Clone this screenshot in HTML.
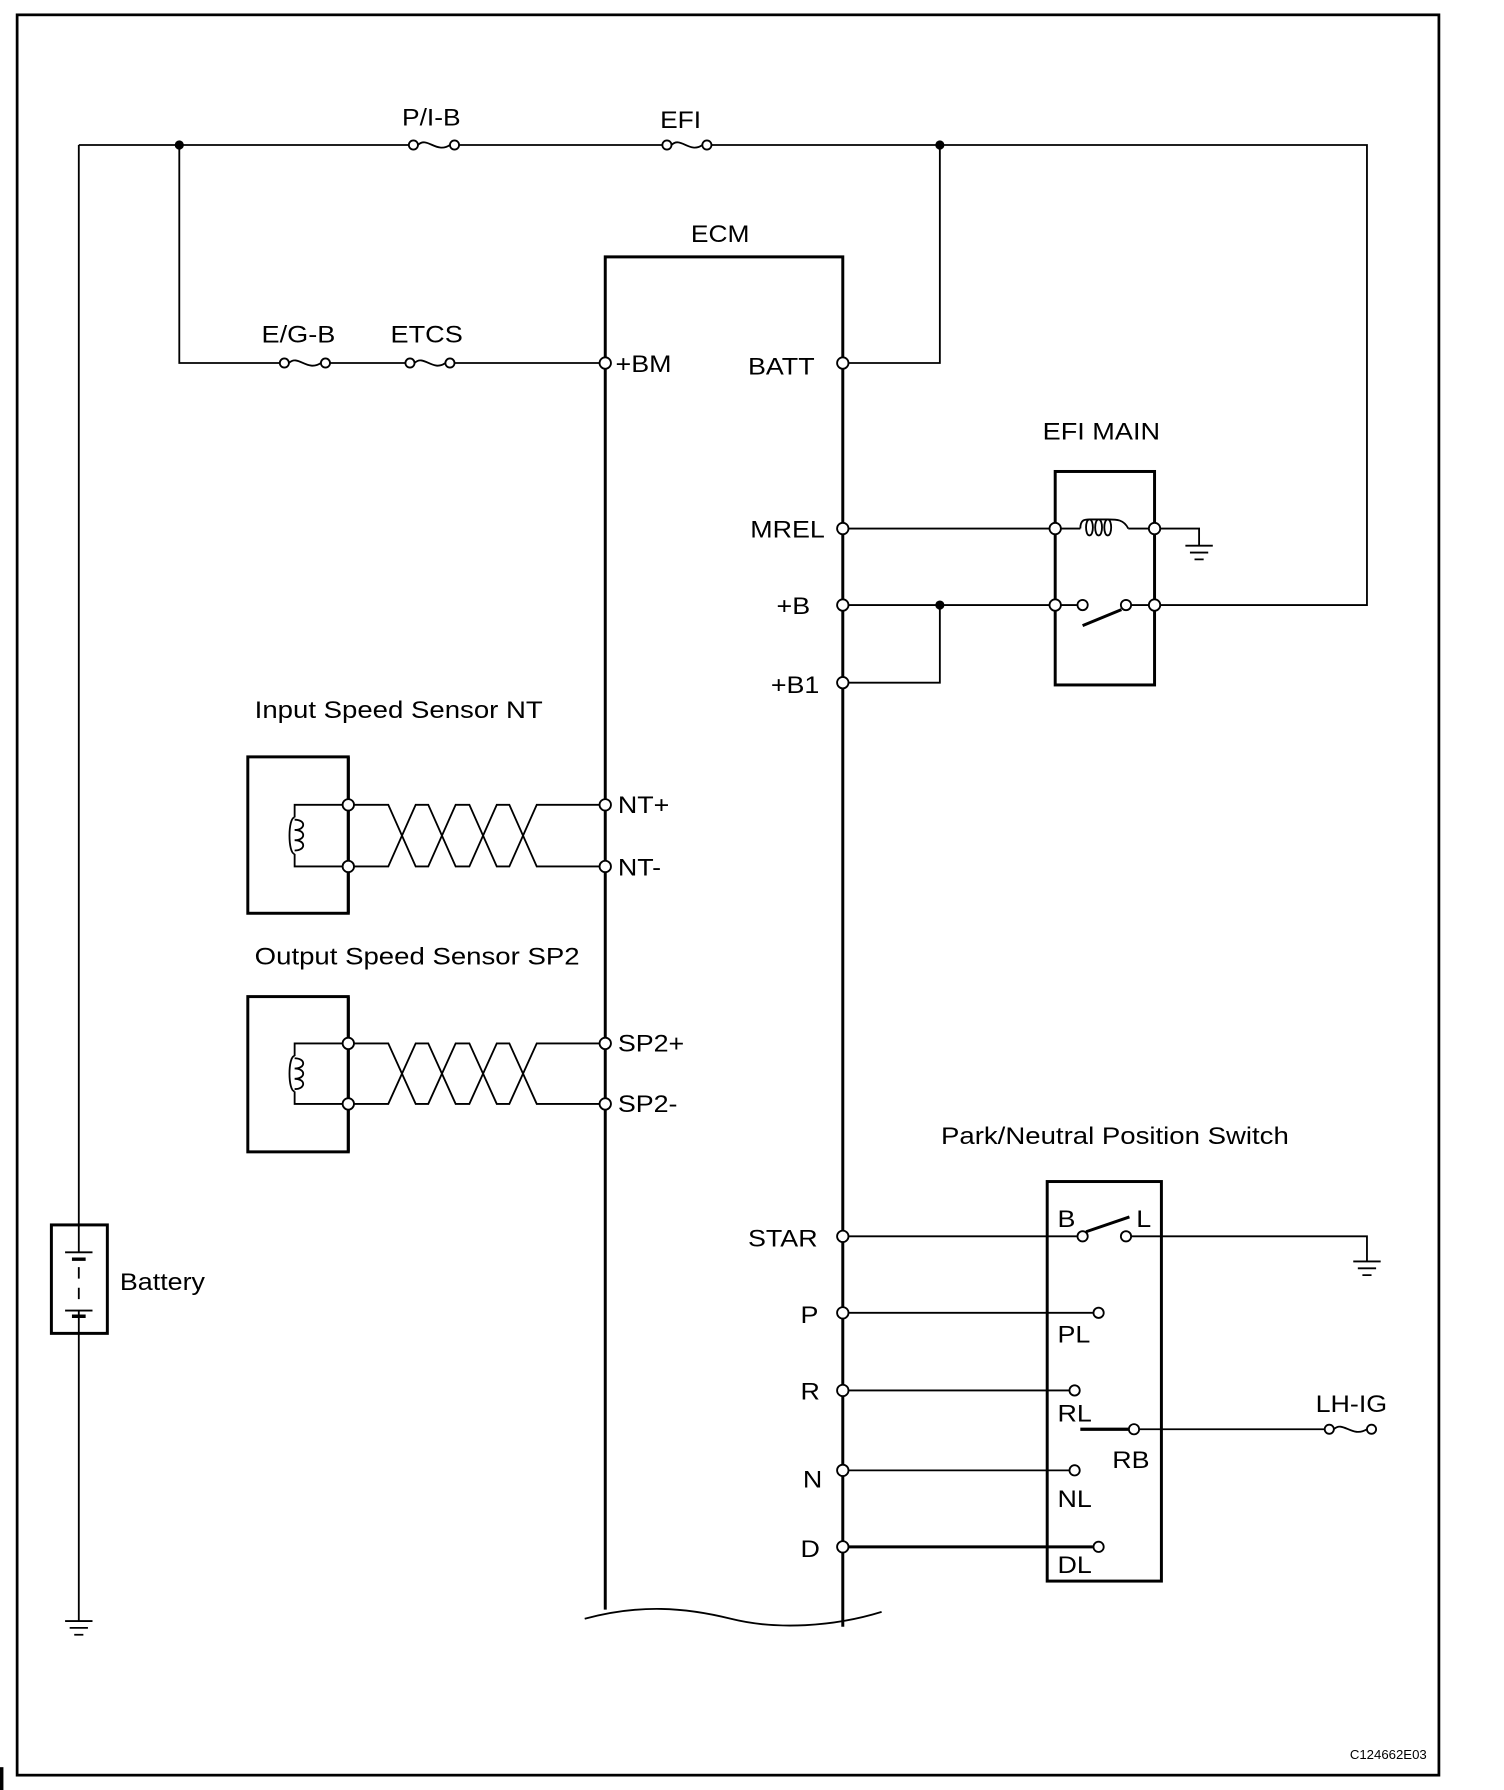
<!DOCTYPE html>
<html><head><style>html,body{margin:0;padding:0;background:#fff}svg{display:block}</style></head><body>
<svg width="1504" height="1790" viewBox="0 0 1317 1568" preserveAspectRatio="none" xmlns="http://www.w3.org/2000/svg" font-family="Liberation Sans, sans-serif" font-size="21">
<g fill="none" stroke="#000" stroke-width="1.6">
<rect x="15" y="13" width="1245" height="1542" stroke-width="2.4"/>
<path d="M69 127H358M402 127H580M623 127H1197V530H1011"/>
<path d="M69 127V1073M69 1168V1420"/>
<rect x="45" y="1073" width="49" height="95" stroke-width="2.6"/>
<path d="M69 1073V1097M57 1097H81M69 1110V1120M69 1128V1138M57 1148H81M69 1148V1168"/>
<path d="M63 1103H75M63 1153H75" stroke-width="3"/>
<path d="M57 1420H81M61 1426H77M65 1432H73"/>
<path d="M157 127V318H245M289 318H355M398 318H525"/>
<g>
<circle cx="362" cy="127" r="4"/><circle cx="398" cy="127" r="4"/><path d="M366 127C374 119 382 135 394 127"/>
<circle cx="584" cy="127" r="4"/><circle cx="619" cy="127" r="4"/><path d="M588 127C596 119 604 135 615 127"/>
<circle cx="249" cy="318" r="4"/><circle cx="285" cy="318" r="4"/><path d="M253 318C261 310 269 326 281 318"/>
<circle cx="359" cy="318" r="4"/><circle cx="394" cy="318" r="4"/><path d="M363 318C371 310 379 326 390 318"/>
<circle cx="1164" cy="1252" r="4"/><circle cx="1201" cy="1252" r="4"/><path d="M1168 1252C1176 1244 1184 1260 1197 1252"/>
</g>
<path d="M530 1410V225H738V1425" stroke-width="2.6"/>
<path d="M512 1418C560 1405 600 1408 640 1418S730 1425 772 1412"/>
<path d="M743 318H823V127"/>
<path d="M743 463H919M929 463H946M988 463H1006M1016 463H1050V478"/>
<path d="M946 463C946 455 950 455 954 455M954 455c-4 0-4 14 0 14c4 0 4-14 0-14c4 0 4 0 8 0M962 455c-4 0-4 14 0 14c4 0 4-14 0-14c4 0 4 0 8 0M970 455c-4 0-4 14 0 14c4 0 4-14 0-14c8 0 14 0 18 8"/>
<path d="M1038 478H1062M1042 484H1058M1046 490H1054"/>
<rect x="924" y="413" width="87" height="187" stroke-width="2.6"/>
<path d="M743 530H919M929 530H943M743 598H823V530"/>
<path d="M991 530H1006"/>
<circle cx="948" cy="530" r="4.5"/><circle cx="986" cy="530" r="4.5"/>
<path d="M948 548L982 534" stroke-width="2.6"/>
<rect x="217" y="663" width="88" height="137" stroke-width="2.6"/>
<rect x="217" y="873" width="88" height="136" stroke-width="2.6"/>
<path d="M305 663V800M305 873V1009" stroke-width="2.6"/>
<path d="M305 705H258V716M258 748V759H305M305 914H258V925M258 956V967H305"/>
<path d="M258 716C252 716 252 748 258 748M258 925C252 925 252 956 258 956"/>
<path d="M258 718c10 0 10 9 0 9c10 0 10 9 0 9c10 0 10 9 0 9M258 927c10 0 10 9 0 9c10 0 10 9 0 9c10 0 10 9 0 9"/>
<path d="M305 705H340L364 759H375L399 705H411L435 759H446L470 705H525M305 759H340L364 705H375L399 759H411L435 705H446L470 759H525"/>
<path d="M305 914H340L364 967H375L399 914H411L435 967H446L470 914H525M305 967H340L364 914H375L399 967H411L435 914H446L470 967H525"/>
<g fill="#fff">
<circle cx="530" cy="318" r="5"/><circle cx="738" cy="318" r="5"/><circle cx="738" cy="463" r="5"/><circle cx="738" cy="530" r="5"/><circle cx="738" cy="598" r="5"/>
<circle cx="924" cy="463" r="5"/><circle cx="1011" cy="463" r="5"/><circle cx="924" cy="530" r="5"/><circle cx="1011" cy="530" r="5"/>
<circle cx="305" cy="705" r="5"/><circle cx="305" cy="759" r="5"/><circle cx="305" cy="914" r="5"/><circle cx="305" cy="967" r="5"/>
<circle cx="530" cy="705" r="5"/><circle cx="530" cy="759" r="5"/><circle cx="530" cy="914" r="5"/><circle cx="530" cy="967" r="5"/>
<circle cx="738" cy="1083" r="5"/><circle cx="738" cy="1150" r="5"/><circle cx="738" cy="1218" r="5"/><circle cx="738" cy="1288" r="5"/><circle cx="738" cy="1355" r="5"/>
</g>
<rect x="917" y="1035" width="100" height="350" stroke-width="2.6"/>
<path d="M743 1083H943M991 1083H1197V1105M1185 1105H1209M1189 1111H1205M1193 1117H1201"/>
<circle cx="948" cy="1083" r="4.5"/><circle cx="986" cy="1083" r="4.5"/>
<path d="M951 1079L989 1066" stroke-width="2.6"/>
<path d="M743 1150H957M743 1218H937M743 1288H937M998 1252H1160"/>
<path d="M743 1355H957" stroke-width="2.6"/>
<path d="M946 1252H988" stroke-width="2.8"/>
<circle cx="962" cy="1150" r="4.5"/><circle cx="941" cy="1218" r="4.5"/><circle cx="993" cy="1252" r="4.5"/><circle cx="941" cy="1288" r="4.5"/><circle cx="962" cy="1355" r="4.5"/>
</g>
<g fill="#000" stroke="none">
<circle cx="157" cy="127" r="4"/><circle cx="823" cy="127" r="4"/><circle cx="823" cy="530" r="4"/>
<rect x="0" y="1548" width="3" height="20"/>
<text transform="translate(352,110) scale(1.1,1)">P/I-B</text>
<text transform="translate(578,112) scale(1.1,1)">EFI</text>
<text transform="translate(605,212) scale(1.1,1)">ECM</text>
<text transform="translate(229,300) scale(1.13,1)">E/G-B</text>
<text transform="translate(342,300) scale(1.13,1)">ETCS</text>
<text transform="translate(539,326) scale(1.12,1)">+BM</text>
<text transform="translate(655,328) scale(1.12,1)">BATT</text>
<text transform="translate(913,385) scale(1.13,1)">EFI MAIN</text>
<text transform="translate(657,471) scale(1.12,1)">MREL</text>
<text transform="translate(680,538) scale(1.12,1)">+B</text>
<text transform="translate(675,607) scale(1.12,1)">+B1</text>
<text transform="translate(223,629) scale(1.15,1)">Input Speed Sensor NT</text>
<text transform="translate(541,712) scale(1.12,1)">NT+</text>
<text transform="translate(541,767) scale(1.12,1)">NT-</text>
<text transform="translate(223,845) scale(1.15,1)">Output Speed Sensor SP2</text>
<text transform="translate(541,921) scale(1.12,1)">SP2+</text>
<text transform="translate(541,974) scale(1.12,1)">SP2-</text>
<text transform="translate(105,1130) scale(1.12,1)">Battery</text>
<text transform="translate(824,1002) scale(1.15,1)">Park/Neutral Position Switch</text>
<text transform="translate(655,1092) scale(1.12,1)">STAR</text>
<text transform="translate(701,1159) scale(1.12,1)">P</text>
<text transform="translate(701,1226) scale(1.12,1)">R</text>
<text transform="translate(703,1303) scale(1.12,1)">N</text>
<text transform="translate(701,1364) scale(1.12,1)">D</text>
<text transform="translate(926,1075) scale(1.12,1)">B</text>
<text transform="translate(995,1075) scale(1.12,1)">L</text>
<text transform="translate(926,1176) scale(1.12,1)">PL</text>
<text transform="translate(926,1245) scale(1.12,1)">RL</text>
<text transform="translate(974,1286) scale(1.12,1)">RB</text>
<text transform="translate(926,1320) scale(1.12,1)">NL</text>
<text transform="translate(926,1378) scale(1.12,1)">DL</text>
<text transform="translate(1152,1237) scale(1.12,1)">LH-IG</text>
<text transform="translate(1182,1541) scale(1.05,1)" font-size="11">C124662E03</text>
</g>
</svg>
</body></html>
